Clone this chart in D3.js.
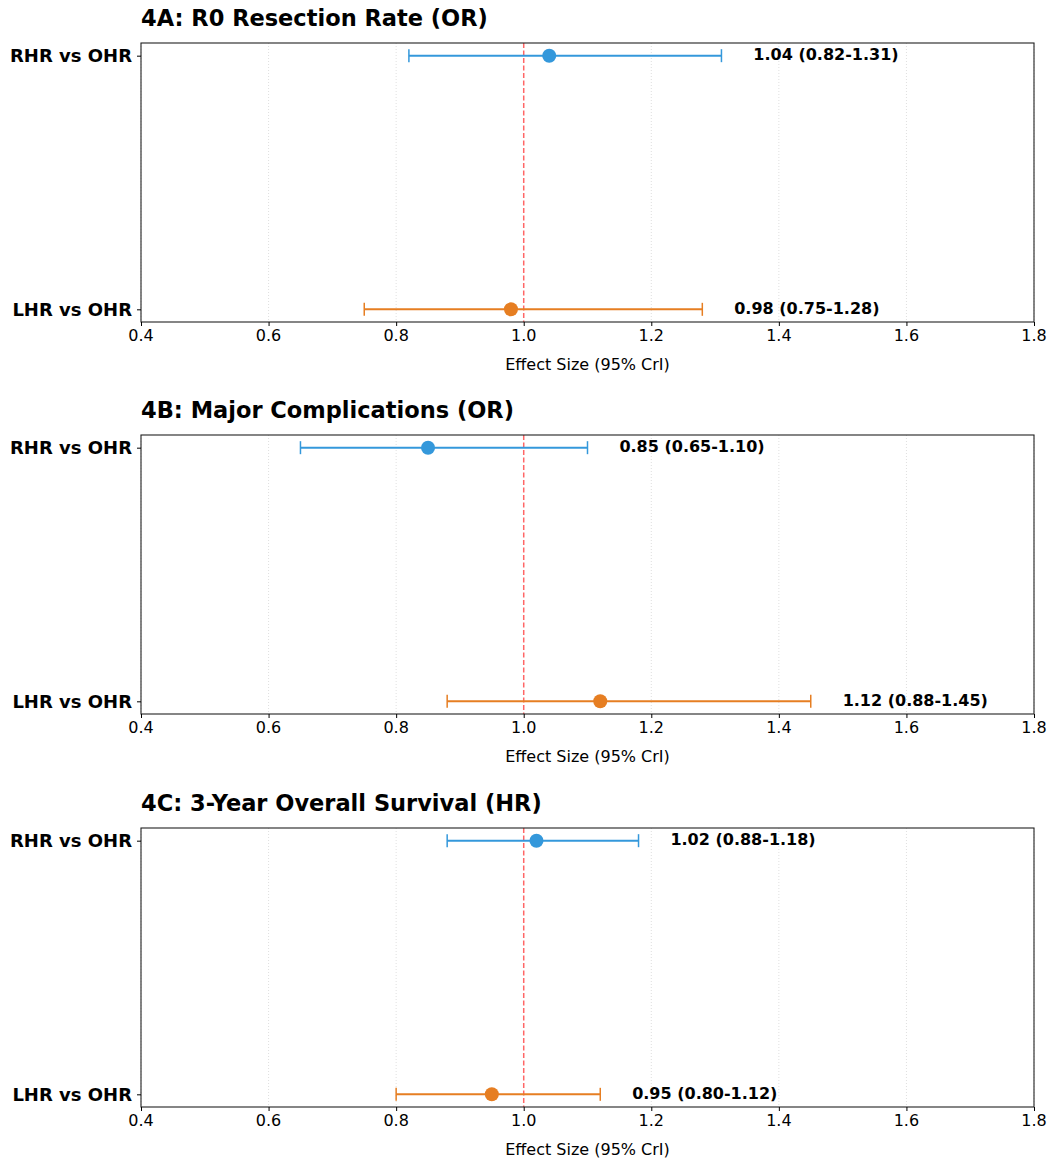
<!DOCTYPE html>
<html><head><meta charset="utf-8">
<script src="https://cdn.jsdelivr.net/npm/d3@7"></script>
<style>body{margin:0;background:#fff;font-family:"DejaVu Sans",sans-serif;}</style>
</head><body><svg id="c" width="1049" height="1162"></svg>
<script>
const panelTitles = ["4A: R0 Resection Rate (OR)", "4B: Major Complications (OR)", "4C: 3-Year Overall Survival (HR)"];
const comparisons = ["RHR vs OHR", "LHR vs OHR"];
const seriesColors = ["#3498db", "#e67e22"];
const estimates = [[1.04, 0.98], [0.85, 1.12], [1.02, 0.95]];
const lowerCI = [[0.82, 0.75], [0.65, 0.88], [0.88, 0.80]];
const upperCI = [[1.31, 1.28], [1.10, 1.45], [1.18, 1.12]];
const xTicks = [0.4, 0.6, 0.8, 1.0, 1.2, 1.4, 1.6, 1.8];
const xLabel = "Effect Size (95% CrI)";

const svg = d3.select("#c");
const left = 141, right = 1034, plotH = 279;
const tops = [43, 435, 828];
const x = d3.scaleLinear().domain([0.4, 1.8]).range([left, right]);

function txt(g, tx, ty, str, size, bold, anchor, dy) {
  return g.append("text").attr("x", tx).attr("y", ty).attr("dy", dy || 0)
    .attr("text-anchor", anchor || "start")
    .attr("font-size", size).attr("font-weight", bold ? "bold" : "normal")
    .attr("font-family", "DejaVu Sans").attr("fill", "#000").text(str);
}

panelTitles.forEach((title, p) => {
  const top = tops[p];
  const g = svg.append("g");
  const y = d3.scaleLinear().domain([-0.05, 1.05]).range([top + plotH, top]);
  const ypos = [1, 0];
  // grid
  g.selectAll(".grid").data(xTicks.filter(d => d !== 1.0)).enter().append("line")
    .attr("x1", d => x(d)).attr("x2", d => x(d))
    .attr("y1", top).attr("y2", top + plotH)
    .attr("stroke", "#b0b0b0").attr("stroke-width", 0.8).attr("stroke-opacity", 0.5)
    .attr("stroke-dasharray", "1,2");
  // ref line
  g.append("line").attr("x1", x(1)).attr("x2", x(1)).attr("y1", top).attr("y2", top + plotH)
    .attr("stroke", "#ff0000").attr("stroke-opacity", 0.6).attr("stroke-width", 1.5)
    .attr("stroke-dasharray", "5,2.5");
  // error bars
  comparisons.forEach((c, i) => {
    const yy = y(ypos[i]);
    const col = seriesColors[i];
    g.append("line").attr("x1", x(lowerCI[p][i])).attr("x2", x(upperCI[p][i]))
      .attr("y1", yy).attr("y2", yy).attr("stroke", col).attr("stroke-width", 2);
    [lowerCI[p][i], upperCI[p][i]].forEach(v => {
      g.append("line").attr("x1", x(v)).attr("x2", x(v)).attr("y1", yy - 6.5).attr("y2", yy + 6.5)
        .attr("stroke", col).attr("stroke-width", 1.5);
    });
    g.append("circle").attr("cx", x(estimates[p][i])).attr("cy", yy).attr("r", 7).attr("fill", col);
    txt(g, x(upperCI[p][i] + 0.05), yy,
      `${estimates[p][i].toFixed(2)} (${lowerCI[p][i].toFixed(2)}-${upperCI[p][i].toFixed(2)})`,
      16, true, "start", "0.3em");
  });
  // frame
  g.append("rect").attr("x", left).attr("y", top).attr("width", right - left).attr("height", plotH)
    .attr("fill", "none").attr("stroke", "#222").attr("stroke-width", 1.1);
  // x axis
  const xa = g.append("g").attr("transform", `translate(0,${top + plotH})`)
    .call(d3.axisBottom(x).tickValues(xTicks).tickFormat("").tickSize(4).tickSizeOuter(0));
  xa.select(".domain").remove();
  xa.selectAll("line").attr("stroke", "#000");
  xTicks.forEach(t => txt(g, x(t), top + plotH + 19, d3.format(".1f")(t), 16, false, "middle"));
  // y axis
  const ya = g.append("g").attr("transform", `translate(${left},0)`)
    .call(d3.axisLeft(y).tickValues(ypos).tickFormat("").tickSize(4).tickSizeOuter(0));
  ya.select(".domain").remove();
  ya.selectAll("line").attr("stroke", "#000");
  comparisons.forEach((c, i) => txt(g, left - 9, y(ypos[i]), c, 18, true, "end", "0.36em"));
  // x label
  txt(g, (left + right) / 2, top + plotH + 48, xLabel, 16, false, "middle");
  // title
  txt(g, left, top - 17, title, 22.5, true, "start");
});
</script></body></html>
